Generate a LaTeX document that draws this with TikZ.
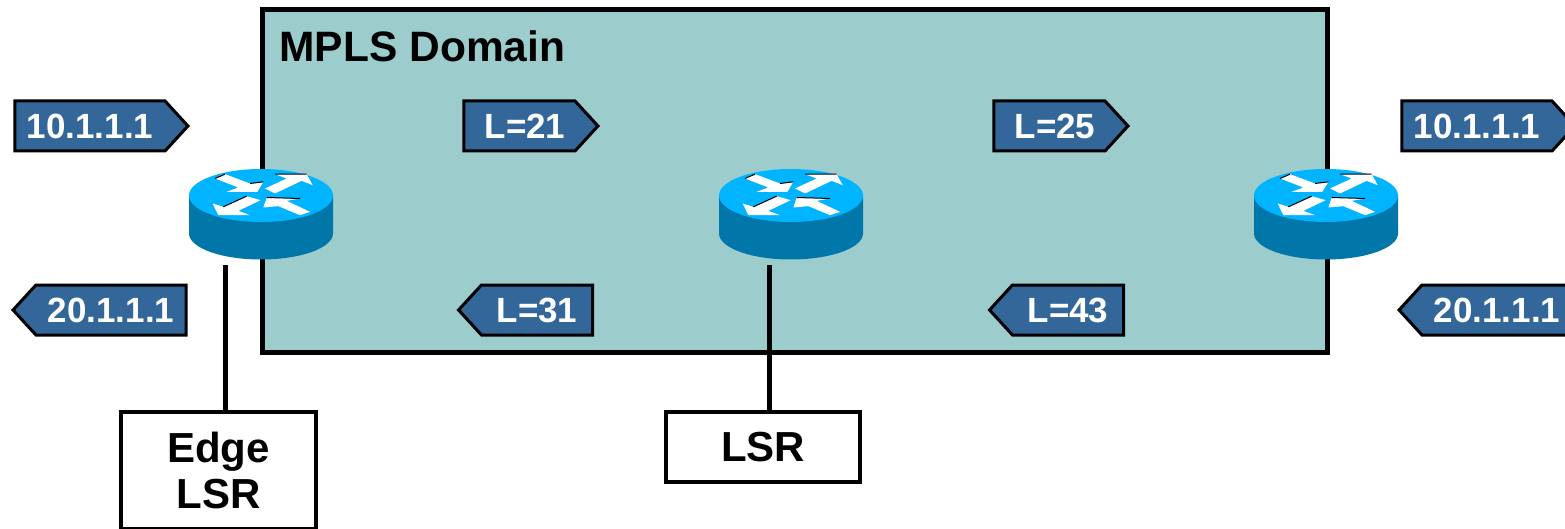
\documentclass[tikz,border=0pt]{standalone}
\usepackage{fontspec}
\setmainfont{Liberation Sans}
\usetikzlibrary{shapes.symbols}
\tikzset{router/.pic={
    \fill[routerside] (-72,0) -- (-72,38) arc[start angle=180,end angle=0,x radius=72,y radius=26] -- (72,0) -- cycle;
    \fill[routertop] (0,0) ellipse[x radius=72,y radius=26.5];
    \begin{scope}[scale=1/3,shift={(-273,-136)}]
        \fill[white] (135,85) -- (165,72) -- (240,100) -- (280,95) -- (262,125) -- (170,125) -- (205,112) -- cycle;
        \fill[white] (285,115) -- (350,85) -- (315,72) -- (410,72) -- (428,105) -- (395,92) -- (315,130) -- cycle;
        \fill[white] (272,150) -- (205,182) -- (240,195) -- (145,195) -- (128,160) -- (160,170) -- (230,138) -- cycle;
        \fill[white] (420,185) -- (390,195) -- (325,168) -- (280,172) -- (290,142) -- (390,145) -- (350,152) -- cycle;
        \draw[black,line width=1pt] (315,72) -- (410,72) (135,85) -- (165,72) (240,100) -- (280,95) (160,170) -- (230,138) (290,142) -- (390,145);
    \end{scope}
}}
\begin{document}
\begin{tikzpicture}[x=1pt,y=-1pt]
\definecolor{domainfill}{HTML}{9CCCCC}
\definecolor{routertop}{HTML}{00B4FF}
\definecolor{routerside}{HTML}{0077A8}
\definecolor{tagfill}{HTML}{336699}
\tikzstyle{tag} = [signal,draw=black,line width=3pt,fill=tagfill,text=white,font=\fontsize{35}{35}\selectfont\bfseries,
    minimum height=50pt,inner xsep=0pt,inner ysep=0pt,signal pointer angle=95]
\tikzstyle{tagright} = [tag,signal to=east,signal from=nowhere]
\tikzstyle{tagleft} = [tag,signal to=west,signal from=nowhere]
\tikzstyle{namebox} = [draw=black,line width=4pt,fill=white,font=\fontsize{42}{46}\selectfont\bfseries,align=center,inner sep=0pt]
\useasboundingbox[fill=white] (0,0) rectangle (1565,529);
\node[draw=black,line width=5pt,fill=domainfill,minimum width=1065pt,minimum height=342pt,inner sep=0pt] (domain) at (794.5,181) {};
\node[anchor=west,font=\fontsize{42.5}{42.5}\selectfont\bfseries] (domainname) at (276,46) {MPLS Domain};
\pic at (261,195.5) {router};
\pic at (791,195.5) {router};
\pic at (1326,195.5) {router};
\node[tagright,minimum width=173pt] (tagina) at (90,126) {10.1.1.1};
\node[tagleft,minimum width=173pt] (tagoutb) at (111,310) {20.1.1.1};
\node[tagright,minimum width=134pt] (labela) at (519.5,126) {\hspace*{11pt}L=21};
\node[tagleft,minimum width=134pt] (labelb) at (537,310) {L=31};
\node[tagright,minimum width=134pt] (labelc) at (1049.5,126) {\hspace*{11pt}L=25};
\node[tagleft,minimum width=134pt] (labeld) at (1068,310) {L=43};
\node[tagright,minimum width=173pt] (tagouta) at (1477,126) {10.1.1.1};
\node[tagleft,minimum width=173pt] (taginb) at (1497,310) {20.1.1.1};
\node[namebox,minimum width=195pt,minimum height=117pt] (edgebox) at (218.5,470.5) {Edge\\LSR};
\node[namebox,minimum width=194pt,minimum height=70pt] (lsrbox) at (763,447) {LSR};
\coordinate (edgeline) at (225,265);
\coordinate (lsrline) at (769,265);
\draw[line width=5pt] (edgeline) -- (edgeline |- edgebox.north);
\draw[line width=5pt] (lsrline) -- (lsrline |- lsrbox.north);
\end{tikzpicture}
\end{document}
